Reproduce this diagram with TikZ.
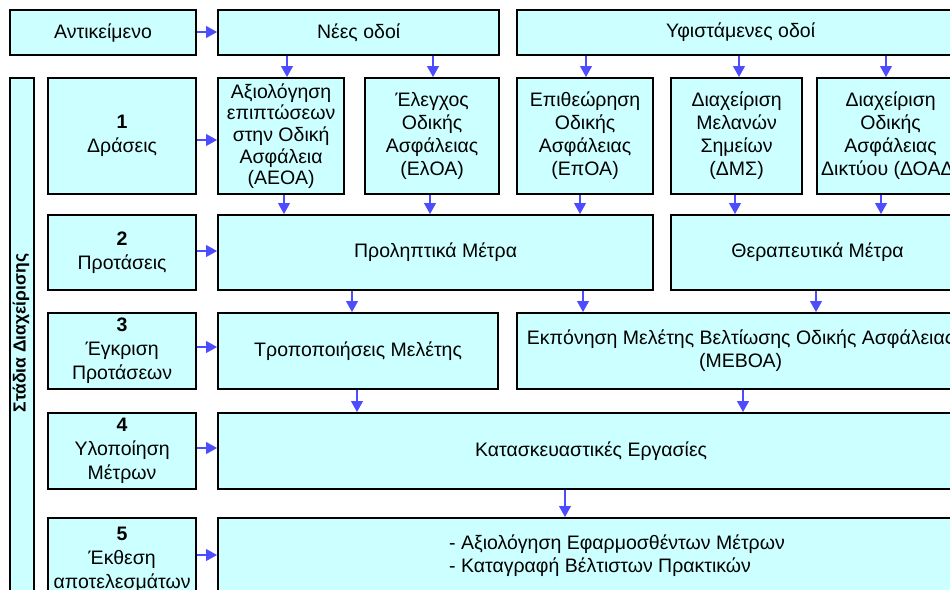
\documentclass[tikz,border=0pt]{standalone}
\usepackage{fontspec}
\setmainfont{Liberation Sans}
\usetikzlibrary{arrows.meta}
\definecolor{boxfill}{HTML}{CCFFFF}
\definecolor{arrblue}{HTML}{4D4DFF}
\tikzset{
  box/.style={draw=black, line width=2.2pt, fill=boxfill, anchor=north west,
    inner sep=0pt, align=center, font=\fontsize{19.5}{23}\selectfont},
  lbl/.style={font=\fontsize{19.5}{24}\selectfont},
  arr/.style={draw=arrblue, line width=1.1pt, -{Triangle[length=11pt,width=12pt]}, arrblue},
}
\newcommand{\bx}[7][]{\node[box,#1, minimum width={#4-#2}, minimum height={#5-#3}] (#6) at (#2,#3) {#7};}
\begin{document}
\begin{tikzpicture}[x=1pt,y=-1pt]
\useasboundingbox (0,0) rectangle (950,589);
\clip (0,0) rectangle (950,589);
\fill[white] (0,0) rectangle (950,589);
% top row
\bx{9}{9}{195}{54}{obj}{Αντικείμενο}
\bx{217}{9}{498}{54}{nees}{Νέες οδοί}
\bx{516}{9}{963}{54}{yfist}{Υφιστάμενες οδοί}
% vertical
\bx{9}{77}{33}{620}{stadia}{}
\node[rotate=90, font=\bfseries\fontsize{17.5}{20}\selectfont] (stadiatext) at (21,333) {Στάδια Διαχείρισης};
% row 1
\bx[lbl]{47}{77}{195}{193}{r1}{\textbf{1}\\Δράσεις}
\bx[font=\fontsize{19.5}{21.7}\selectfont]{217}{77}{343}{193}{aeoa}{Αξιολόγηση\\επιπτώσεων\\στην Οδική\\Ασφάλεια\\(ΑΕΟΑ)}
\bx{364}{77}{498}{193}{eloa}{Έλεγχος\\Οδικής\\Ασφάλειας\\(ΕλΟΑ)}
\bx{516}{77}{652}{193}{epoa}{Επιθεώρηση\\Οδικής\\Ασφάλειας\\(ΕπΟΑ)}
\bx{670}{77}{801}{193}{dms}{Διαχείριση\\Μελανών\\Σημείων\\(ΔΜΣ)}
\bx{816}{77}{963}{193}{doad}{Διαχείριση\\Οδικής\\Ασφάλειας\\Δικτύου (ΔΟΑΔ)}
% row 2
\bx[lbl]{47}{214}{195}{289}{r2}{\textbf{2}\\Προτάσεις}
\bx{217}{214}{652}{289}{prol}{Προληπτικά Μέτρα}
\bx{670}{214}{963}{289}{therap}{Θεραπευτικά Μέτρα}
% row 3
\bx[lbl]{47}{312}{195}{388}{r3}{\textbf{3}\\Έγκριση\\Προτάσεων}
\bx{217}{312}{497}{388}{tropo}{Τροποποιήσεις Μελέτης}
\bx{516}{312}{963}{388}{meboa}{Εκπόνηση Μελέτης Βελτίωσης Οδικής Ασφάλειας\\(ΜΕΒΟΑ)}
% row 4
\bx[lbl]{47}{412}{195}{488}{r4}{\textbf{4}\\Υλοποίηση\\Μέτρων}
\bx{217}{412}{963}{488}{kat}{Κατασκευαστικές Εργασίες}
% row 5
\bx[lbl]{47}{517}{195}{600}{r5}{\textbf{5}\\Έκθεση\\αποτελεσμάτων}
\bx{217}{517}{963}{600}{eval}{}
\node[anchor=west, align=left, inner sep=0pt, font=\fontsize{19.5}{23}\selectfont] (evaltext) at (449,555.5) {- Αξιολόγηση Εφαρμοσθέντων Μέτρων\\- Καταγραφή Βέλτιστων Πρακτικών};
% horizontal arrows
\draw[arr] (obj.east |- 0,32) -- (nees.west |- 0,32);
\draw[arr] (r1.east |- 0,140) -- (aeoa.west |- 0,140);
\draw[arr] (r2.east |- 0,251) -- (prol.west |- 0,251);
\draw[arr] (r3.east |- 0,347) -- (tropo.west |- 0,347);
\draw[arr] (r4.east |- 0,448) -- (kat.west |- 0,448);
\draw[arr] (r5.east |- 0,555) -- (eval.west |- 0,555);
% vertical arrows
\draw[arr] (287,0 |- nees.south) -- (287,0 |- aeoa.north);
\draw[arr] (433,0 |- nees.south) -- (433,0 |- eloa.north);
\draw[arr] (586,0 |- yfist.south) -- (586,0 |- epoa.north);
\draw[arr] (739,0 |- yfist.south) -- (739,0 |- dms.north);
\draw[arr] (886,0 |- yfist.south) -- (886,0 |- doad.north);
\draw[arr] (284,0 |- aeoa.south) -- (284,0 |- prol.north);
\draw[arr] (430,0 |- eloa.south) -- (430,0 |- prol.north);
\draw[arr] (580,0 |- epoa.south) -- (580,0 |- prol.north);
\draw[arr] (735,0 |- dms.south) -- (735,0 |- therap.north);
\draw[arr] (881,0 |- doad.south) -- (881,0 |- therap.north);
\draw[arr] (352,0 |- prol.south) -- (352,0 |- tropo.north);
\draw[arr] (583,0 |- prol.south) -- (583,0 |- meboa.north);
\draw[arr] (816,0 |- therap.south) -- (816,0 |- meboa.north);
\draw[arr] (357,0 |- tropo.south) -- (357,0 |- kat.north);
\draw[arr] (743,0 |- meboa.south) -- (743,0 |- kat.north);
\draw[arr] (565,0 |- kat.south) -- (565,0 |- eval.north);
\end{tikzpicture}
\end{document}
